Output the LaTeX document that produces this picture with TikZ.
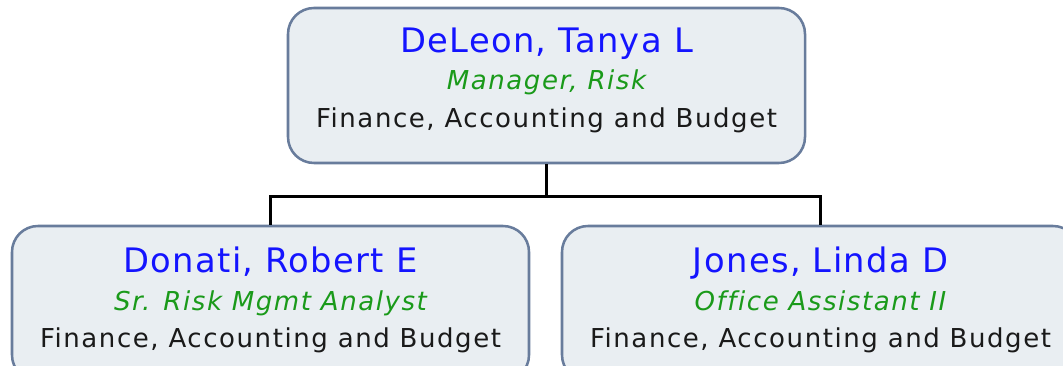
\documentclass[tikz,border=0pt]{standalone}
\usepackage{fontspec}
\usepackage{tikz}
\newfontfamily\orgfont[LetterSpace=6, Ligatures=NoCommon]{DejaVu Sans}
\newfontfamily\orgnamefont[LetterSpace=4, Ligatures=NoCommon]{DejaVu Sans}
\definecolor{boxfill}{HTML}{E9EEF2}
\definecolor{boxline}{HTML}{687C9C}
\definecolor{namecol}{HTML}{1414FF}
\definecolor{titlecol}{HTML}{1A9A1A}
\definecolor{deptcol}{HTML}{1A1A1A}
\pgfmathsetmacro{\boxw}{517*0.025}
\pgfmathsetmacro{\boxh}{155*0.025}
\tikzset{
	person/.style={draw=boxline, fill=boxfill, line width=1.8pt, rounded corners=0.65cm, minimum width=\boxw cm, minimum height=\boxh cm, inner sep=0pt},
	namelbl/.style={anchor=base, inner sep=0pt, text=namecol, font=\orgnamefont\fontsize{24}{28}\selectfont},
	titlelbl/.style={anchor=base, inner sep=0pt, text=titlecol, font=\orgfont\itshape\fontsize{18.5}{22}\selectfont},
	deptlbl/.style={anchor=base, inner sep=0pt, text=deptcol, font=\orgfont\fontsize{18.5}{22}\selectfont},
	link/.style={line width=1.8pt, black}
}

\begin{document}
\begin{tikzpicture}[x=0.025cm, y=-0.025cm]
		\useasboundingbox (0, 0) rectangle (1063, 366);
		\clip (0, 0) rectangle (1063, 366);
		% boxes
		\node[person] (mgr) at (546.5, 85.5) {};
		\node[person] (donati) at (270.5, 303.5) {};
		\node[person] (jones) at (820.5, 303.5) {};
		% connectors
		\draw[link] (mgr.south) -- ++(0, 32) coordinate (split) -| (donati.north);
		\draw[link] (split) -| (jones.north);
		% texts
		\node[namelbl] (mgr-name) at (546.5, 53) {DeLeon, Tanya L};
		\node[titlelbl] (mgr-title) at (546.5, 90) {Manager, Risk};
		\node[deptlbl] (mgr-dept) at (546.5, 128) {Finance, Accounting and Budget};
		\node[namelbl] (donati-name) at (270.5, 272) {Donati, Robert E};
		\node[titlelbl] (donati-title) at (270.5, 310) {Sr. Risk Mgmt Analyst};
		\node[deptlbl] (donati-dept) at (270.5, 347) {Finance, Accounting and Budget};
		\node[namelbl] (jones-name) at (820.5, 272) {Jones, Linda D};
		\node[titlelbl] (jones-title) at (820.5, 310) {Office Assistant II};
		\node[deptlbl] (jones-dept) at (820.5, 347) {Finance, Accounting and Budget};
	\end{tikzpicture}
\end{document}
